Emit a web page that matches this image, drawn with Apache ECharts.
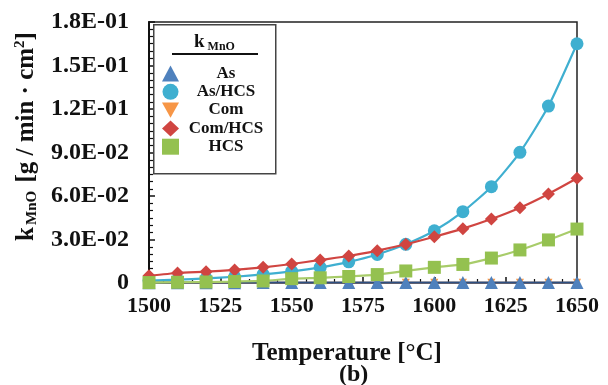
<!DOCTYPE html>
<html>
<head>
<meta charset="utf-8">
<script src="https://cdn.jsdelivr.net/npm/echarts@6/dist/echarts.min.js"></script>
<style>
  html, body { margin: 0; padding: 0; background: #fff; }
  #chart { width: 608px; height: 385px; }
</style>
</head>
<body>
<div id="chart"></div>
<script>
// temperatures (°C)
const temps = [1500, 1510, 1520, 1530, 1540, 1550, 1560, 1570, 1580, 1590, 1600, 1610, 1620, 1630, 1640, 1650];

// k_MnO values
const as = [0.0002, 0.0002, 0.0002, 0.0002, 0.0003, 0.0003, 0.0003, 0.0003, 0.0003, 0.0003, 0.0003, 0.0003, 0.0003, 0.0003, 0.0003, 0.0003];
const asHcs = [0.0017, 0.0023, 0.0032, 0.0043, 0.0059, 0.0080, 0.0108, 0.0146, 0.0197, 0.0267, 0.0360, 0.0492, 0.0664, 0.0901, 0.1220, 0.1650];
const com = [0.0001, 0.0001, 0.0001, 0.0001, 0.0001, 0.0001, 0.0001, 0.0001, 0.0001, 0.0001, 0.0001, 0.0001, 0.0001, 0.0001, 0.0001, 0.0001];
const comHcs = [0.0050, 0.0069, 0.0078, 0.0090, 0.0108, 0.0131, 0.0159, 0.0186, 0.0223, 0.0267, 0.0319, 0.0375, 0.0441, 0.0519, 0.0614, 0.0722];
const hcs = [0.0003, 0.0005, 0.0007, 0.0010, 0.0014, 0.0030, 0.0036, 0.0045, 0.0058, 0.0083, 0.0108, 0.0128, 0.0172, 0.0228, 0.0297, 0.0372];

const seriesNames = ['As', 'As/HCS', 'Com', 'Com/HCS', 'HCS'];
const legendIcons = ['triangle', 'circle', 'path://M0,0 L10,0 L5,9 Z', 'diamond', 'rect'];

const serif = '"Liberation Serif", "DejaVu Serif", serif';

function sci(v) {
  if (v === 0) return '0';
  const parts = v.toExponential(1).split('e');
  const n = parseInt(parts[1], 10);
  return parts[0] + 'E' + (n < 0 ? '-' : '+') + String(Math.abs(n)).padStart(2, '0');
}

function pts(arr) {
  return temps.map((t, i) => [t, arr[i]]);
}

const chart = echarts.init(document.getElementById('chart'));

const mk = (name, data, symbol, size, color, lineColor, z) => ({
  name: name,
  type: 'line',
  data: pts(data),
  symbol: symbol,
  symbolSize: size,
  smooth: 0.2,
  itemStyle: { color: color },
  lineStyle: { color: lineColor, width: 2.2 },
  z: z
});

chart.setOption({
  animation: false,
  grid: {
    left: 149, right: 31, top: 22, bottom: 102,
    show: true, borderColor: '#222', borderWidth: 1.5
  },
  xAxis: {
    type: 'value',
    min: 1500, max: 1650, interval: 25,
    axisLine: { show: true, onZero: false, lineStyle: { color: '#111', width: 2 } },
    axisTick: { show: true, inside: true, length: 6, lineStyle: { color: '#111', width: 1.5 } },
    minorTick: { show: true, splitNumber: 5, length: 4, lineStyle: { color: '#111', width: 1.2 } },
    splitLine: { show: false },
    axisLabel: {
      fontFamily: serif, fontWeight: 'bold', fontSize: 22, color: '#111', margin: 12,
      formatter: v => String(v)
    },
    name: 'Temperature [°C]',
    nameLocation: 'middle',
    nameGap: 58,
    nameTextStyle: { fontFamily: serif, fontWeight: 'bold', fontSize: 25, color: '#111', padding: [0, 32, 0, 0] }
  },
  yAxis: {
    type: 'value',
    min: 0, max: 0.18, interval: 0.03,
    axisLine: { show: true, lineStyle: { color: '#111', width: 2 } },
    axisTick: { show: true, inside: true, length: 6, lineStyle: { color: '#111', width: 1.5 } },
    minorTick: { show: true, splitNumber: 6, length: 4, lineStyle: { color: '#111', width: 1.2 } },
    splitLine: { show: false },
    axisLabel: {
      fontFamily: serif, fontWeight: 'bold', fontSize: 24, color: '#111', margin: 20,
      formatter: sci
    },
    name: '{k|k}{sub|MnO}{k| [g / min · cm}{sup|2}{k|]}',
    nameLocation: 'middle',
    nameGap: 107,
    nameTextStyle: {
      fontFamily: serif, fontWeight: 'bold', fontSize: 25, color: '#111',
      padding: [0, 0, 0, 32],
      rich: {
        k: { fontFamily: serif, fontWeight: 'bold', fontSize: 25, color: '#111' },
        sub: { fontFamily: serif, fontWeight: 'bold', fontSize: 15, color: '#111', padding: [12, 2, 0, 2] },
        sup: { fontFamily: serif, fontWeight: 'bold', fontSize: 15, color: '#111', padding: [0, 0, 12, 0] }
      }
    }
  },
  legend: {
    orient: 'vertical',
    left: 162,
    top: 65,
    padding: 0,
    itemWidth: 17,
    itemHeight: 16,
    itemGap: 1.3,
    data: seriesNames.map((n, i) => ({ name: n, icon: legendIcons[i] })),
    formatter: '{c|{name}}',
    textStyle: {
      rich: {
        c: { width: 84, align: 'center', fontFamily: serif, fontWeight: 'bold', fontSize: 17, color: '#111' }
      }
    },
    z: 10
  },
  graphic: [
    {
      type: 'rect', left: 153, top: 24, z: 5,
      shape: { width: 122, height: 149 },
      style: { fill: '#fff', stroke: '#444', lineWidth: 1.5 }
    },
    {
      type: 'text', left: 194, top: 33, z: 6,
      style: {
        text: '{k|k}{s|MnO}',
        rich: {
          k: { fontFamily: serif, fontWeight: 'bold', fontSize: 19, fill: '#111' },
          s: { fontFamily: serif, fontWeight: 'bold', fontSize: 12, fill: '#111', padding: [8, 0, 0, 3] }
        }
      }
    },
    {
      type: 'line', z: 6,
      shape: { x1: 172, y1: 54, x2: 258, y2: 54 },
      style: { stroke: '#111', lineWidth: 2.2 }
    },
    {
      type: 'text', left: 339, top: 363, z: 6,
      style: { text: '(b)', fontFamily: serif, fontWeight: 'bold', fontSize: 24, fill: '#111' }
    }
  ],
  series: [
    mk('Com', com, 'path://M0,0 L10,0 L5,9 Z', 8, '#F79646', '#F79646', 2),
    mk('As', as, 'triangle', 13, '#4F81BD', '#2E4F80', 3),
    mk('As/HCS', asHcs, 'circle', 13, '#3FAFD0', '#3FAFD0', 4),
    mk('Com/HCS', comHcs, 'diamond', 13, '#D04541', '#D04541', 5),
    mk('HCS', hcs, 'rect', 13, '#94C150', '#A8CC6A', 6)
  ]
});
</script>
</body>
</html>
